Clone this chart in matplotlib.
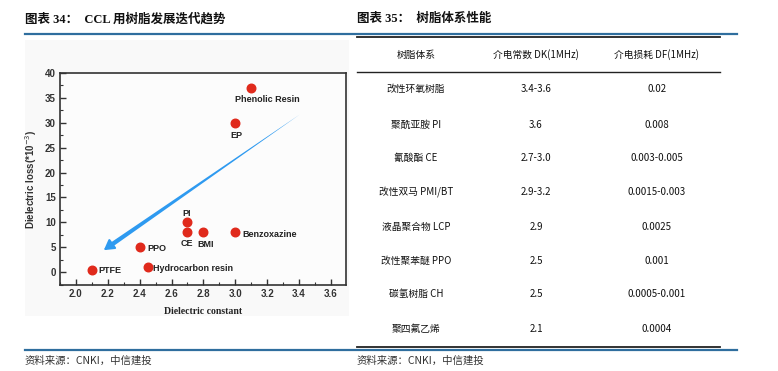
import numpy as np
import matplotlib
matplotlib.use("Agg")
import matplotlib.pyplot as plt
from matplotlib.lines import Line2D
from matplotlib.patches import Rectangle, FancyArrowPatch
from matplotlib.ticker import MultipleLocator

plt.rcParams['font.family'] = ['Liberation Sans', 'Noto Sans CJK SC', 'DejaVu Sans']

# left chart data
resins = ["Phenolic Resin", "EP", "PI", "CE", "BMI", "Benzoxazine", "PPO", "Hydrocarbon resin", "PTFE"]
dielectricConst = [3.1, 3.0, 2.7, 2.7, 2.8, 3.0, 2.4, 2.45, 2.1]
dielectricLoss = [37, 30, 10, 8, 8, 8, 5, 1, 0.5]
arrowTail = (3.42, 32.0)
arrowHead = (2.175, 4.4)

# right table data
tableHeader = ["树脂体系", "介电常数 DK(1MHz)", "介电损耗 DF(1MHz)"]
tableResin = ["改性环氧树脂", "聚酰亚胺 PI", "氰酸酯 CE", "改性双马 PMI/BT", "液晶聚合物 LCP",
              "改性聚苯醚 PPO", "碳氢树脂 CH", "聚四氟乙烯"]
tableDK = ["3.4-3.6", "3.6", "2.7-3.0", "2.9-3.2", "2.9", "2.5", "2.5", "2.1"]
tableDF = ["0.02", "0.008", "0.003-0.005", "0.0015-0.003", "0.0025", "0.001", "0.0005-0.001", "0.0004"]

W, H = 778, 371
fig = plt.figure(figsize=(W / 100, H / 100), dpi=100)


def fx(x):
    return x / W


def fy(y):
    return 1 - y / H


def hline(x0, x1, y, color, lw):
    fig.add_artist(Line2D([fx(x0), fx(x1)], [fy(y), fy(y)], color=color, lw=lw, transform=fig.transFigure))


# titles
titleFont = ['Liberation Serif', 'Noto Sans CJK SC']
fig.text(fx(25), fy(19), "图表 34：  CCL 用树脂发展迭代趋势", fontsize=9, fontweight="bold",
         family=titleFont, va="center", ha="left", color="#111111")
fig.text(fx(357), fy(19), "图表 35：  树脂体系性能", fontsize=9, fontweight="bold",
         family=titleFont, va="center", ha="left", color="#111111")

# header / footer rules
hline(25, 737, 34, "#2f6e9e", 1.6)
hline(357, 720, 36.5, "#222222", 1.3)
hline(25, 737, 349.5, "#2f6e9e", 1.6)
hline(357, 720, 347, "#222222", 1.3)

# sources
for xs in (25, 357):
    fig.text(fx(xs), fy(361), "资料来源：CNKI，中信建投", fontsize=7.5, style="italic",
             family=['Noto Sans CJK SC'], va="center", ha="left", color="#333333")

# faint grey background of the embedded chart picture
fig.add_artist(Rectangle((fx(25), fy(316)), fx(349) - fx(25), fy(40) - fy(316),
                         transform=fig.transFigure, facecolor="#f9f9f9", edgecolor="none", zorder=0))

# scatter chart
ax = fig.add_axes([fx(60), fy(285), fx(346) - fx(60), fy(73) - fy(285)])
ax.set_facecolor("#fcfcfc")
ax.scatter(dielectricConst, dielectricLoss, s=38, color="#e02a1c", zorder=3)

labelOffsets = {
    "Phenolic Resin": (16, -12, "center"),
    "EP": (1, -13, "center"),
    "PI": (-1, 9, "center"),
    "CE": (-1, -11, "center"),
    "BMI": (2, -12, "center"),
    "Benzoxazine": (7, -2, "left"),
    "PPO": (8, -1, "left"),
    "Hydrocarbon resin": (5, -1, "left"),
    "PTFE": (7, -1, "left"),
}
for name, xv, yv in zip(resins, dielectricConst, dielectricLoss):
    dx, dy, ha = labelOffsets[name]
    ax.annotate(name, (xv, yv), xytext=(dx, dy), textcoords="offset pixels",
                ha=ha, va="center", fontsize=6.5, fontweight="bold", color="#222222")

# tapered arrow: wedge body plus a head
body = FancyArrowPatch(posA=(arrowHead[0] + 0.04, arrowHead[1] + 0.9), posB=arrowTail,
                       arrowstyle="wedge,tail_width=0.4,shrink_factor=0.5", mutation_scale=8,
                       color="#2e9af0", lw=0, zorder=2)
ax.add_patch(body)
ax.annotate("", xy=arrowHead, xytext=(arrowHead[0] + 0.09, arrowHead[1] + 2.1),
            arrowprops=dict(arrowstyle="-|>,head_length=0.6,head_width=0.35", color="#2e9af0",
                            lw=1.5, mutation_scale=10, shrinkA=0, shrinkB=0))

ax.set_xlim(1.9, 3.695)
ax.set_ylim(-2.6, 40)
ax.xaxis.set_minor_locator(MultipleLocator(0.1))
ax.yaxis.set_minor_locator(MultipleLocator(2.5))
ax.tick_params(which="both", direction="in", top=False, right=False, colors="#333333")
ax.tick_params(which="major", length=4, width=1, labelsize=7, pad=3)
ax.tick_params(which="minor", length=2, width=0.8)
xt = np.arange(2.0, 3.61, 0.2)
ax.set_xticks(xt)
ax.set_xticklabels([f"{v:.1f}" for v in xt], fontweight="bold", color="#333333")
ax.set_yticks(np.arange(0, 41, 5))
ax.set_yticklabels([str(v) for v in range(0, 41, 5)], fontweight="bold", color="#333333")
for sp in ax.spines.values():
    sp.set_linewidth(1.2)
    sp.set_color("#333333")
ax.set_xlabel("Dielectric constant", fontsize=7, fontweight="bold", family=['Liberation Serif'],
              color="#222222", labelpad=6)
ax.set_ylabel(r"Dielectric loss(*10$^{-3}$)", fontsize=7, fontweight="bold", color="#333333", labelpad=4)

# table
colX = [416, 536, 657]
headerY = 55
rowY = [89, 125, 158, 192, 227, 261, 294, 329]
tableFont = ['Noto Sans CJK SC']
for x, txt in zip(colX, tableHeader):
    fig.text(fx(x), fy(headerY), txt, fontsize=7, family=tableFont, ha="center", va="center", color="#111111")
hline(357, 720, 72, "#222222", 1.0)
for y, a, b, c in zip(rowY, tableResin, tableDK, tableDF):
    for x, txt in zip(colX, (a, b, c)):
        fig.text(fx(x), fy(y), txt, fontsize=7, family=tableFont, ha="center", va="center", color="#111111")

fig.savefig("out.png", dpi=100)
